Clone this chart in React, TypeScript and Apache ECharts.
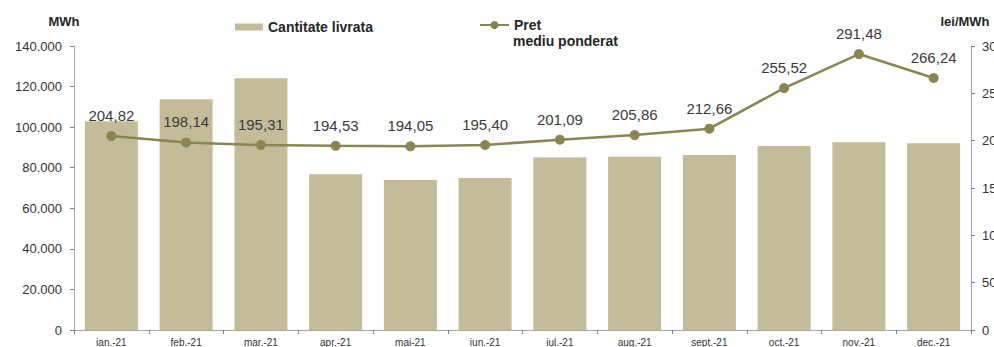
import React, { useEffect, useRef } from "react";
import * as echarts from "echarts";

const categories = ["ian.-21", "feb.-21", "mar.-21", "apr.-21", "mai-21", "iun.-21", "iul.-21", "aug.-21", "sept.-21", "oct.-21", "nov.-21", "dec.-21"];
const quantity = [102900, 113700, 124100, 76800, 74000, 74900, 85000, 85400, 86300, 90700, 92500, 92100];
const price = [204.82, 198.14, 195.31, 194.53, 194.05, 195.4, 201.09, 205.86, 212.66, 255.52, 291.48, 266.24];

const FONT = "'Liberation Sans', Arial, sans-serif";
const fmtThousands = (v: number) => String(v).replace(/\B(?=(\d{3})+(?!\d))/g, ".");

export default function App() {
  const ref = useRef<HTMLDivElement>(null);
  useEffect(() => {
    if (!ref.current) return;
    const chart = echarts.init(ref.current, undefined, { renderer: "svg" });
    chart.setOption({
      animation: false,
      textStyle: { fontFamily: FONT },
      grid: { left: 74, right: 23, top: 46, bottom: 17, containLabel: false, outerBoundsMode: "none" },
      legend: [
        {
          data: ["Cantitate livrata"],
          left: 235,
          top: 20,
          padding: 0,
          itemWidth: 28,
          itemHeight: 7,
          icon: "rect",
          textStyle: { fontFamily: FONT, fontSize: 14, fontWeight: "bold", color: "#262626" },
        },
        {
          data: ["Pret mediu ponderat"],
          left: 479,
          top: 18,
          padding: 0,
          itemWidth: 29,
          itemHeight: 10,
          formatter: () => "Pret",
          textStyle: { fontFamily: FONT, fontSize: 14, fontWeight: "bold", color: "#262626" },
        },
      ],
      graphic: [
        {
          type: "text",
          left: 513,
          top: 34,
          style: { text: "mediu ponderat", font: "bold 14px " + FONT, fill: "#262626" },
        },
      ],
      xAxis: {
        type: "category",
        data: categories,
        axisLine: { lineStyle: { color: "#a6a6a6" } },
        axisTick: { show: true, length: 4, alignWithLabel: false, lineStyle: { color: "#808080" } },
        axisLabel: { fontFamily: FONT, fontSize: 10, color: "#333", margin: 7, interval: 0 },
      },
      yAxis: [
        {
          type: "value",
          min: 0,
          max: 140000,
          interval: 20000,
          name: "MWh",
          nameLocation: "end",
          nameGap: 18,
          nameTextStyle: { fontFamily: FONT, fontSize: 13, fontWeight: "bold", color: "#262626", align: "center", padding: [0, 20, 0, 0] },
          axisLine: { show: true, lineStyle: { color: "#a6a6a6" } },
          axisTick: { show: true, length: 4, lineStyle: { color: "#808080" } },
          splitLine: { show: false },
          axisLabel: { fontFamily: FONT, fontSize: 13, color: "#333", margin: 12, formatter: (v: number) => fmtThousands(v) },
        },
        {
          type: "value",
          min: 0,
          max: 300,
          interval: 50,
          position: "right",
          name: "lei/MWh",
          nameLocation: "end",
          nameGap: 18,
          nameTextStyle: { fontFamily: FONT, fontSize: 13, fontWeight: "bold", color: "#262626", align: "center", padding: [0, 12, 0, 0] },
          axisLine: { show: true, lineStyle: { color: "#a6a6a6" } },
          axisTick: { show: true, length: 4, lineStyle: { color: "#808080" } },
          splitLine: { show: false },
          axisLabel: { fontFamily: FONT, fontSize: 13, color: "#333", margin: 11 },
        },
      ],
      series: [
        {
          name: "Cantitate livrata",
          type: "bar",
          data: quantity,
          yAxisIndex: 0,
          barWidth: 53,
          itemStyle: { color: "#C4BC98" },
        },
        {
          name: "Pret mediu ponderat",
          type: "line",
          data: price,
          yAxisIndex: 1,
          symbol: "circle",
          symbolSize: 10,
          smooth: false,
          lineStyle: { color: "#8B8552", width: 2.5 },
          itemStyle: { color: "#8B8552" },
          label: {
            show: true,
            position: "top",
            distance: 8,
            fontFamily: FONT,
            fontSize: 15,
            color: "#3a3a3a",
            formatter: (p: any) => p.value.toFixed(2).replace(".", ","),
          },
        },
      ],
    });
    return () => chart.dispose();
  }, []);
  return <div ref={ref} style={{ width: 994, height: 347, position: "absolute", left: 0, top: 0 }} />;
}
